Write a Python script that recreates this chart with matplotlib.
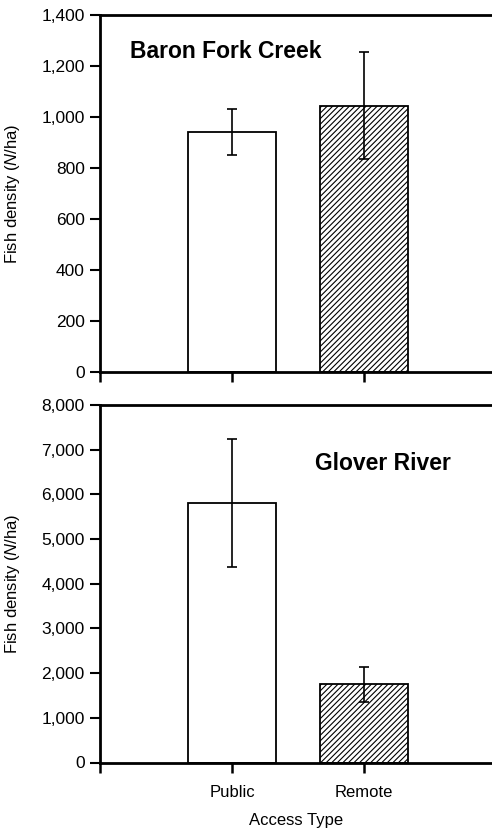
import matplotlib
matplotlib.use("Agg")
import matplotlib.pyplot as plt
from matplotlib.ticker import FuncFormatter

plt.rcParams['font.family'] = ['Liberation Sans', 'DejaVu Sans']
plt.rcParams['mathtext.fontset'] = 'custom'
plt.rcParams['mathtext.it'] = 'Liberation Sans:italic'
plt.rcParams['mathtext.rm'] = 'Liberation Sans'
plt.rcParams['hatch.linewidth'] = 0.8

categories = ["Public", "Remote"]
baron_values = [940, 1045]
baron_errors = [90, 210]
glover_values = [5800, 1750]
glover_errors = [1430, 390]
baron_ticks = [0, 200, 400, 600, 800, 1000, 1200, 1400]
glover_ticks = [0, 1000, 2000, 3000, 4000, 5000, 6000, 7000, 8000]
hatches = ['', '//////']

fig = plt.figure(figsize=(4.92, 8.35), dpi=100)
ax1 = fig.add_axes([100/492, 1-372/835, 1-100/492, (372-15)/835])
ax2 = fig.add_axes([100/492, 1-762.5/835, 1-100/492, (762.5-405)/835])

fmt = FuncFormatter(lambda v, p: f"{int(v):,}")

def draw(ax, vals, errs, ticks, title, tx, ty):
    xs = list(range(len(categories)))
    for x, v, e, h in zip(xs, vals, errs, hatches):
        ax.bar(x, v, width=0.66, color='white', edgecolor='black',
               linewidth=1.3, hatch=h, zorder=2)
        ax.errorbar(x, v, yerr=e, fmt='none', ecolor='black',
                    elinewidth=1.2, capsize=3.5, capthick=1.2, zorder=3)
    ax.set_xlim(-1.0, 1.97)
    ax.set_ylim(ticks[0], ticks[-1])
    ax.set_yticks(ticks)
    ax.yaxis.set_major_formatter(fmt)
    ax.set_xticks([-1, 0, 1])
    ax.set_xticklabels(['', categories[0], categories[1]])
    ax.spines['right'].set_visible(False)
    for s in ['left', 'top', 'bottom']:
        ax.spines[s].set_linewidth(2.0)
    ax.tick_params(axis='y', direction='out', length=7, width=1.5,
                   labelsize=12.5, pad=4)
    ax.tick_params(axis='x', direction='out', length=7.5, width=1.8,
                   labelsize=12, pad=9)
    ax.set_ylabel(r"Fish density ($\it{N}$/ha)", fontsize=12)
    ax.yaxis.set_label_coords(-0.2, 0.5)
    ax.text(tx, ty, title, transform=ax.transAxes, fontsize=16.5,
            fontweight='bold', ha='left', va='center')

draw(ax1, baron_values, baron_errors, baron_ticks, "Baron Fork Creek",
     (130-100)/392, 1-(52-15)/357)
ax1.set_xticklabels(['', '', ''])
draw(ax2, glover_values, glover_errors, glover_ticks, "Glover River",
     (315-100)/392, 1-(464-405)/357.5)
ax2.set_xlabel("Access Type", fontsize=12, labelpad=9)

fig.savefig("out.png", dpi=100)
